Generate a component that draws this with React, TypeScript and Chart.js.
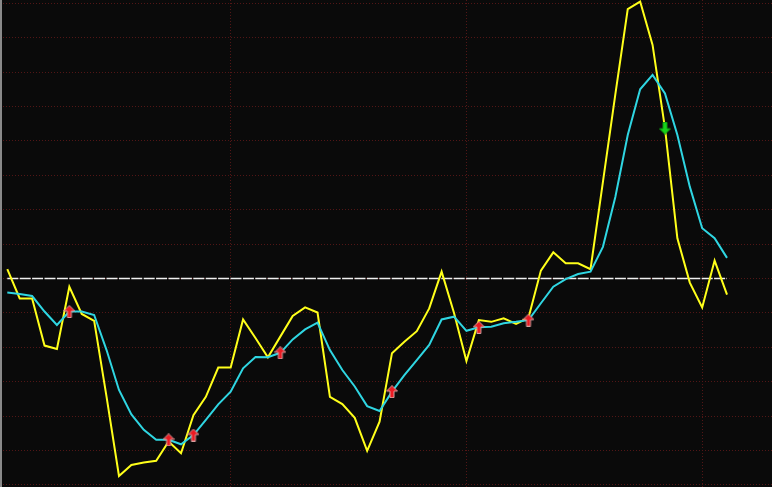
import { useEffect, useRef } from "react";
import { Chart, registerables } from "chart.js";

Chart.register(...registerables);

// Fast (yellow) indicator line, one value per period
const yellowValues: number[] = [
  2.7, -5.8, -5.8, -19.5, -20.5, -2.4, -10.3, -12.3, -34.4, -57.4,
  -54.2, -53.5, -53.0, -47.4, -50.8, -39.7, -34.4, -25.9, -25.9, -11.9,
  -17.3, -22.9, -16.9, -10.9, -8.4, -9.9, -34.4, -36.5, -40.5, -50.1,
  -41.6, -21.7, -18.4, -15.3, -8.7, 2.0, -10.0, -24.0, -12.1, -12.6,
  -11.6, -13.2, -11.4, 2.3, 7.6, 4.4, 4.4, 2.7, 28.1, 53.5,
  78.3, 80.5, 67.9, 43.7, 11.7, -1.2, -8.4, 5.2, -4.7,
];

// Slow (cyan) signal line
const cyanValues: number[] = [
  -4.1, -4.5, -5.1, -9.6, -13.5, -9.6, -9.6, -10.6, -20.8, -32.4,
  -39.5, -44.0, -46.9, -46.9, -48.2, -45.5, -41.1, -36.6, -32.9, -26.1,
  -22.8, -22.9, -21.6, -17.7, -14.8, -12.8, -20.8, -26.6, -31.4, -37.1,
  -38.5, -32.9, -28.1, -23.7, -19.3, -11.9, -11.1, -15.2, -14.2, -14.0,
  -13.0, -12.6, -12.1, -7.2, -2.4, -0.2, 1.3, 2.0, 9.2, 23.7,
  41.7, 55.0, 59.2, 53.8, 41.7, 26.7, 14.6, 11.7, 6.0,
];

// Baseline level (white dashed line)
const baselineValue = 0;

// Signal markers (period indices)
const buyIndices: number[] = [5, 13, 15, 22, 31, 38, 42];
const sellIndices: number[] = [53];

// Grid positions
const xGridTicks: number[] = [18, 37, 56];
const yGridTicks: number[] = [-60, -50, -40, -30, -20, -10, 0, 10, 20, 30, 40, 50, 60, 70, 80];

function makeArrow(fill: string, outline: string, up: boolean): HTMLCanvasElement {
  const c = document.createElement("canvas");
  c.width = 12;
  c.height = 13;
  const ctx = c.getContext("2d")!;
  ctx.save();
  if (!up) {
    ctx.translate(0, 13);
    ctx.scale(1, -1);
  }
  ctx.beginPath();
  ctx.moveTo(6, 0.5);
  ctx.lineTo(11.5, 6);
  ctx.lineTo(8, 6);
  ctx.lineTo(8, 12.5);
  ctx.lineTo(4, 12.5);
  ctx.lineTo(4, 6);
  ctx.lineTo(0.5, 6);
  ctx.closePath();
  ctx.fillStyle = fill;
  ctx.fill();
  ctx.lineWidth = 1;
  ctx.strokeStyle = outline;
  ctx.stroke();
  ctx.restore();
  return c;
}

const bgPlugin = {
  id: "bgPlugin",
  beforeDraw(chart: any) {
    const { ctx, width, height } = chart;
    ctx.save();
    ctx.fillStyle = "#0a0a0a";
    ctx.fillRect(0, 0, width, height);
    ctx.restore();
  },
  afterDraw(chart: any) {
    const { ctx, height } = chart;
    ctx.save();
    ctx.fillStyle = "#8a8a8a";
    ctx.fillRect(0, 0, 2, height);
    ctx.restore();
  },
};

export default function App() {
  const ref = useRef<HTMLCanvasElement | null>(null);

  useEffect(() => {
    document.body.style.margin = "0";
    document.body.style.background = "#0a0a0a";
    const canvas = ref.current;
    if (!canvas) return;

    const upArrow = makeArrow("#ec1a22", "#d8a0a0", true);
    const downArrow = makeArrow("#16d21a", "#0f9a12", false);

    const toXY = (arr: number[]) => arr.map((v, i) => ({ x: i, y: v }));

    const chart = new Chart(canvas, {
      type: "line",
      data: {
        datasets: [
          {
            label: "sell",
            type: "scatter",
            data: sellIndices.map((i) => ({ x: i, y: yellowValues[i] })),
            pointStyle: downArrow as any,
            pointRadius: 6,
            order: 0,
          } as any,
          {
            label: "buy",
            type: "scatter",
            data: buyIndices.map((i) => ({ x: i, y: cyanValues[i] })),
            pointStyle: upArrow as any,
            pointRadius: 6,
            order: 1,
          } as any,
          {
            label: "cyan",
            data: toXY(cyanValues),
            borderColor: "#2fd6e2",
            borderWidth: 2,
            pointRadius: 0,
            tension: 0,
            order: 2,
          },
          {
            label: "yellow",
            data: toXY(yellowValues),
            borderColor: "#ffff1a",
            borderWidth: 2,
            pointRadius: 0,
            tension: 0,
            order: 3,
          },
          {
            label: "baseline",
            data: yellowValues.map((_, i) => ({ x: i, y: baselineValue })),
            borderColor: "#f0f0f0",
            borderWidth: 1.5,
            borderDash: [11, 1.4],
            pointRadius: 0,
            order: 4,
          },
        ],
      },
      options: {
        animation: false,
        responsive: false,
        maintainAspectRatio: false,
        layout: { padding: 0, autoPadding: false },
        plugins: {
          legend: { display: false },
          tooltip: { enabled: false },
        },
        scales: {
          x: {
            type: "linear",
            min: -0.588,
            max: 61.625,
            afterBuildTicks(scale: any) {
              scale.ticks = xGridTicks.map((v) => ({ value: v }));
            },
            afterFit(scale: any) {
              scale.height = 0;
            },
            ticks: { display: false },
            grid: { color: "#521616", lineWidth: 1, drawTicks: false },
            border: { display: false, dash: [1, 2] },
          },
          y: {
            type: "linear",
            min: -60.61,
            max: 80.96,
            afterBuildTicks(scale: any) {
              scale.ticks = yGridTicks.map((v) => ({ value: v }));
            },
            afterFit(scale: any) {
              scale.width = 0;
            },
            ticks: { display: false },
            grid: { color: "#521616", lineWidth: 1, drawTicks: false },
            border: { display: false, dash: [1, 2] },
          },
        },
      },
      plugins: [bgPlugin],
    });

    return () => chart.destroy();
  }, []);

  return (
    <canvas
      ref={ref}
      width={772}
      height={487}
      style={{ display: "block", width: 772, height: 487 }}
    />
  );
}
